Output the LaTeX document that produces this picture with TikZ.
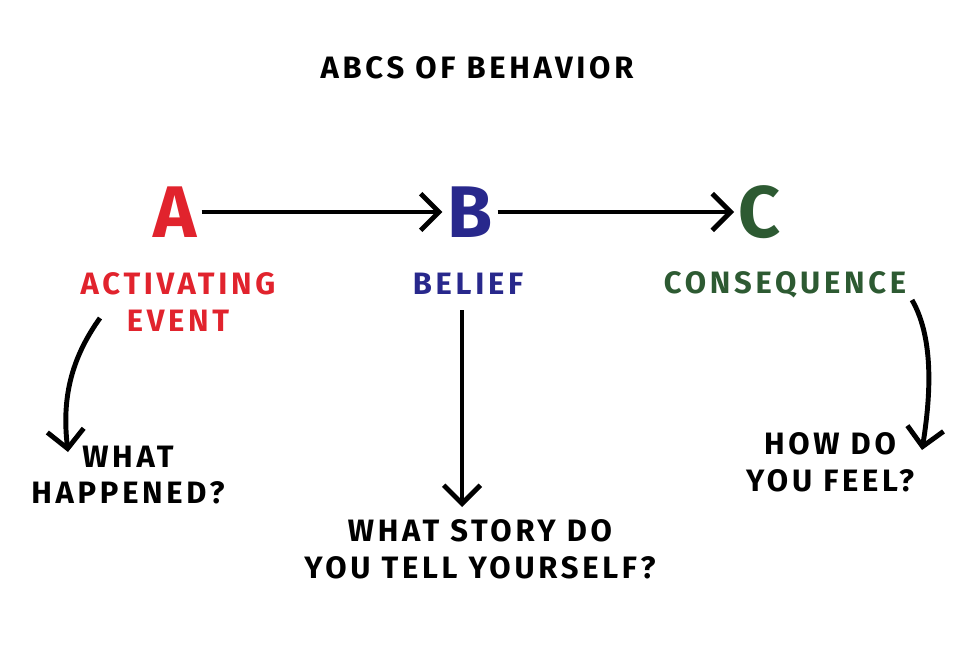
\documentclass[tikz,border=0pt]{standalone}
\usepackage{fontspec}
\setmainfont{Fira Sans}
\newfontfamily\handfont[LetterSpace=12]{Fira Sans}
\usetikzlibrary{arrows.meta}
\definecolor{actred}{RGB}{225,35,45}
\definecolor{belblue}{RGB}{40,40,140}
\definecolor{conGreen}{RGB}{45,90,50}
\tikzset{
  letter/.style={font=\fontsize{52}{52}\selectfont\bfseries},
  label/.style={font=\handfont\fontsize{22}{26}\selectfont\bfseries, align=center},
  note/.style={font=\handfont\fontsize{22}{26}\selectfont\bfseries, align=center},
  link/.style={line width=3.5pt, -{Straight Barb[length=13pt,width=26pt,line width=3.5pt]}}
}
\begin{document}
\begin{tikzpicture}[x=0.025cm,y=-0.025cm]
    \useasboundingbox (0,0) rectangle (977,657);
    \node[label] (title) at (477,68) {ABCS OF BEHAVIOR};
    \node[letter,actred] (a) at (175,212) {A};
    \node[letter,belblue] (b) at (470,212) {B};
    \node[letter,conGreen] (c) at (760,212) {C};
    \node[label,actred] (ae) at (178,302) {ACTIVATING\\EVENT};
    \node[label,belblue] (bel) at (468,284) {BELIEF};
    \node[label,conGreen] (con) at (785,285) {CONSEQUENCE};
    \node[note] (wh) at (128,475) {WHAT\\HAPPENED?};
    \node[note] (ws) at (480,549) {WHAT STORY DO\\YOU TELL YOURSELF?};
    \node[note] (hd) at (830,462) {HOW DO\\YOU FEEL?};
    \coordinate (aeo) at (100,318);
    \coordinate (whi) at (68,452);
    \coordinate (belo) at (462,310);
    \coordinate (wsi) at (462,507);
    \coordinate (cono) at (912,300);
    \coordinate (hdi) at (922,450);
    \draw[link] (a.east) -- (b.west);
    \draw[link] (b.east) -- (c.west);
    \draw[link] (aeo) .. controls (70,360) and (62,400) .. (whi);
    \draw[link] (belo) -- (wsi);
    \draw[link] (cono) .. controls (935,340) and (930,400) .. (hdi);
\end{tikzpicture}
\end{document}
